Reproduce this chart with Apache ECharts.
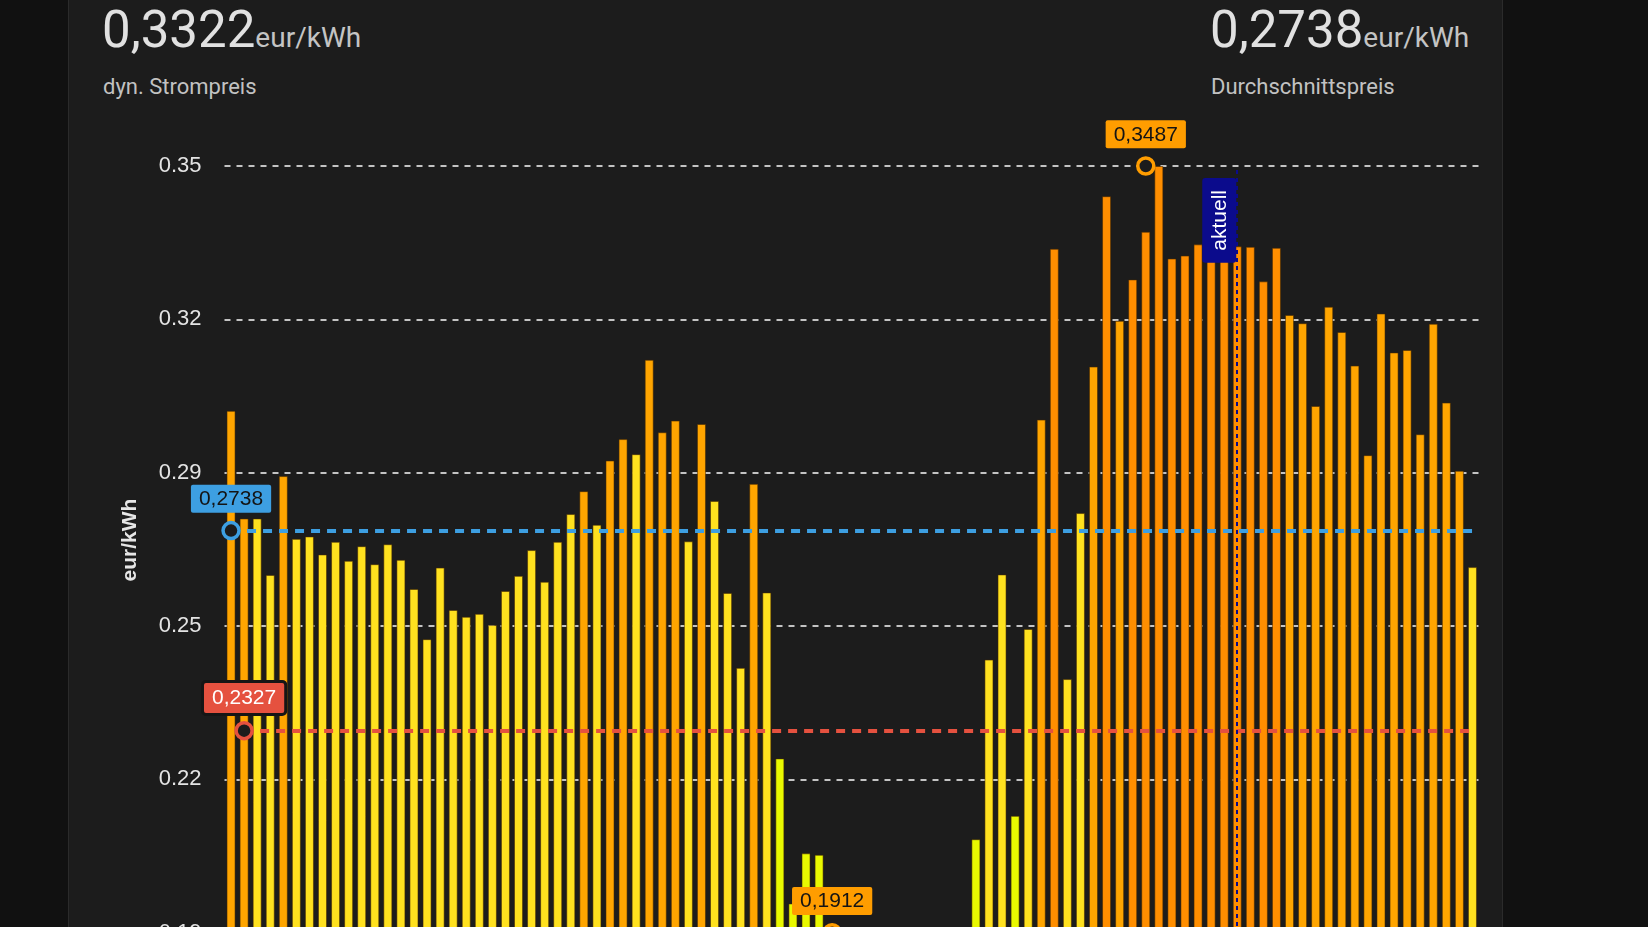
<!DOCTYPE html>
<html>
<head>
<meta charset="utf-8">
<title>dyn. Strompreis</title>
<style>
  html, body { margin: 0; padding: 0; width: 1648px; height: 927px; overflow: hidden; background: #111111; }
  #card { position: absolute; left: 68px; top: -20px; width: 1433px; height: 1200px; background: #1c1c1c; border: 1px solid #2b2b2b; border-radius: 12px; }
  .head { position: absolute; font-family: Roboto, sans-serif; white-space: nowrap; }
  .val { font-size: 51px; line-height: 50px; color: #e1e1e1; }
  .val span { font-size: 28px; color: #c4c4c4; }
  .sub { font-size: 22px; line-height: 22px; color: #c2c2c2; }
  #chartContainer { position: absolute; left: 0; top: 0; width: 1648px; height: 1120px; }
</style>
</head>
<body>
<div id="card"></div>
<div class="head val" style="left:102px; top:5px;">0,3322<span>eur/kWh</span></div>
<div class="head sub" style="left:103px; top:76px;">dyn. Strompreis</div>
<div class="head val" style="left:1210px; top:5px;">0,2738<span>eur/kWh</span></div>
<div class="head sub" style="left:1211px; top:76px;">Durchschnittspreis</div>
<div id="chartContainer"></div>

<script src="https://cdn.jsdelivr.net/npm/echarts@6/dist/echarts.min.js"></script>
<script>
// 15-minute prices, eur/kWh (bars 46..56 lie below the visible area)
var prices = [
  0.2984, 0.2763, 0.2763, 0.2647, 0.2850, 0.2721, 0.2726, 0.2689, 0.2715, 0.2676,
  0.2706, 0.2669, 0.2710, 0.2678, 0.2618, 0.2515, 0.2662, 0.2575, 0.2561, 0.2567,
  0.2544, 0.2614, 0.2645, 0.2698, 0.2633, 0.2715, 0.2772, 0.2819, 0.2750, 0.2882,
  0.2926, 0.2895, 0.3089, 0.2940, 0.2964, 0.2716, 0.2957, 0.2799, 0.2610, 0.2456,
  0.2834, 0.2611, 0.2270, 0.1972, 0.2075, 0.2072, 0.1912, 0.1915, 0.1918, 0.1916,
  0.1914, 0.1917, 0.1919, 0.1915, 0.1913, 0.1916, 0.1918, 0.2104, 0.2473, 0.2648,
  0.2152, 0.2536, 0.2966, 0.3317, 0.2433, 0.2774, 0.3075, 0.3425, 0.3169, 0.3254,
  0.3352, 0.3487, 0.3297, 0.3303, 0.3326, 0.3300, 0.3305, 0.3322, 0.3321, 0.3250,
  0.3319, 0.3181, 0.3164, 0.2994, 0.3198, 0.3146, 0.3077, 0.2893, 0.3184, 0.3104,
  0.3109, 0.2936, 0.3163, 0.3001, 0.2861, 0.2663
];

// price level per slot: 0 sehr günstig, 1 günstig, 2 teuer, 3 sehr teuer
var levels = [
  2, 2, 1, 1, 2, 1, 1, 1, 1, 1,
  1, 1, 1, 1, 1, 1, 1, 1, 1, 1,
  1, 1, 1, 1, 1, 1, 1, 2, 1, 2,
  2, 1, 2, 2, 2, 1, 2, 1, 1, 1,
  2, 1, 0, 0, 0, 0, 0, 0, 0, 0,
  0, 0, 0, 0, 0, 0, 0, 0, 1, 1,
  0, 1, 2, 3, 1, 1, 2, 3, 2, 3,
  3, 3, 3, 3, 3, 3, 3, 3, 3, 3,
  3, 2, 2, 2, 2, 2, 2, 2, 2, 2,
  2, 2, 2, 2, 2, 1
];

var slots = prices.map(function (p, i) { return i; });

// reference values and where their markers sit (slot index)
var avgPrice = 0.2738;
var lowPrice = 0.2327;
var maxPrice = 0.3487;
var minPrice = 0.1912;
var avgSlot = 0, lowSlot = 1, maxSlot = 70, minSlot = 46;
var nowSlot = 77;

// y axis: ticks 0.1597 .. 0.3487, step 0.0315
var yMin = 0.1597, yMax = 0.3487, yStep = 0.0315;

var levelColors = ['#e9f900', '#ffe11f', '#ffa500', '#ff8e00'];
var blue = '#3d9fe2', red = '#e5513f', orange = '#ff9d00', navy = '#0b0b8c';

function komma(v) { return v.toFixed(4).replace('.', ','); }

var dom = document.getElementById('chartContainer');
var myChart = echarts.init(dom);

var labelFont = { fontFamily: '"Liberation Sans", Arial, sans-serif', fontSize: 21 };

function marker(slot, value, col, textCol, extra) {
  var lbl = Object.assign({
    show: true,
    position: 'top',
    distance: 8,
    formatter: komma(value),
    backgroundColor: col,
    color: textCol,
    padding: [4, 8, 3, 8],
    borderRadius: 2
  }, labelFont, extra || {});
  return {
    coord: [slot, value],
    value: value,
    itemStyle: { color: '#1c1c1c', borderColor: col, borderWidth: 3.5 },
    label: lbl
  };
}

var option = {
  backgroundColor: 'transparent',
  animation: false,
  grid: { left: 224.5, top: 166, width: 1254.5, height: 920 },
  graphic: [{
    type: 'text',
    x: 130, y: 540,
    rotation: Math.PI / 2,
    style: {
      text: 'eur/kWh',
      fill: '#e6e6e6',
      font: 'bold 21px "Liberation Sans", Arial, sans-serif',
      align: 'center',
      verticalAlign: 'middle'
    }
  }],
  xAxis: {
    type: 'category',
    data: slots,
    axisLine: { show: false },
    axisTick: { show: false },
    axisLabel: { show: false }
  },
  yAxis: {
    type: 'value',
    min: yMin,
    max: yMax,
    interval: yStep,
    axisLine: { show: false },
    axisTick: { show: false },
    axisLabel: Object.assign({
      color: '#e4e4e4',
      margin: 23,
      formatter: function (v) { return v.toFixed(2); }
    }, labelFont, { fontSize: 22 }),
    splitLine: {
      lineStyle: { color: 'rgba(225,225,225,0.85)', width: 2, type: [6, 6] }
    }
  },
  series: [{
    type: 'bar',
    data: prices.map(function (p, i) {
      return { value: p, itemStyle: { color: levelColors[levels[i]] } };
    }),
    barCategoryGap: '31%',
    itemStyle: { borderColor: 'rgba(70,40,0,0.55)', borderWidth: 1 },
    markLine: {
      silent: true,
      symbol: 'none',
      label: { show: false },
      data: [
        [{ coord: [avgSlot, avgPrice], lineStyle: { color: blue, width: 4, type: [9, 7] } },
         { coord: [prices.length - 1, avgPrice] }],
        [{ coord: [lowSlot, lowPrice], lineStyle: { color: red, width: 4, type: [9, 7] } },
         { coord: [prices.length - 1, lowPrice] }],
        {
          xAxis: nowSlot,
          lineStyle: { color: navy, width: 2, type: [4, 4] },
          label: Object.assign({
            show: true,
            formatter: 'aktuell',
            position: 'insideEndTop',
            distance: [12, 1],
            color: '#ffffff',
            backgroundColor: navy,
            padding: [7, 12, 6, 12],
            borderRadius: 3
          }, labelFont)
        }
      ]
    },
    markPoint: {
      silent: true,
      symbol: 'circle',
      symbolSize: 16,
      data: [
        marker(avgSlot, avgPrice, blue, '#141414'),
        marker(lowSlot, lowPrice, red, '#ffffff', { borderColor: '#151515', borderWidth: 3, padding: [5, 8, 4, 8] }),
        marker(maxSlot, maxPrice, orange, '#141414'),
        marker(minSlot, minPrice, orange, '#141414')
      ]
    }
  }]
};

myChart.setOption(option);
window.addEventListener('resize', function () { myChart.resize(); });
</script>
</body>
</html>
